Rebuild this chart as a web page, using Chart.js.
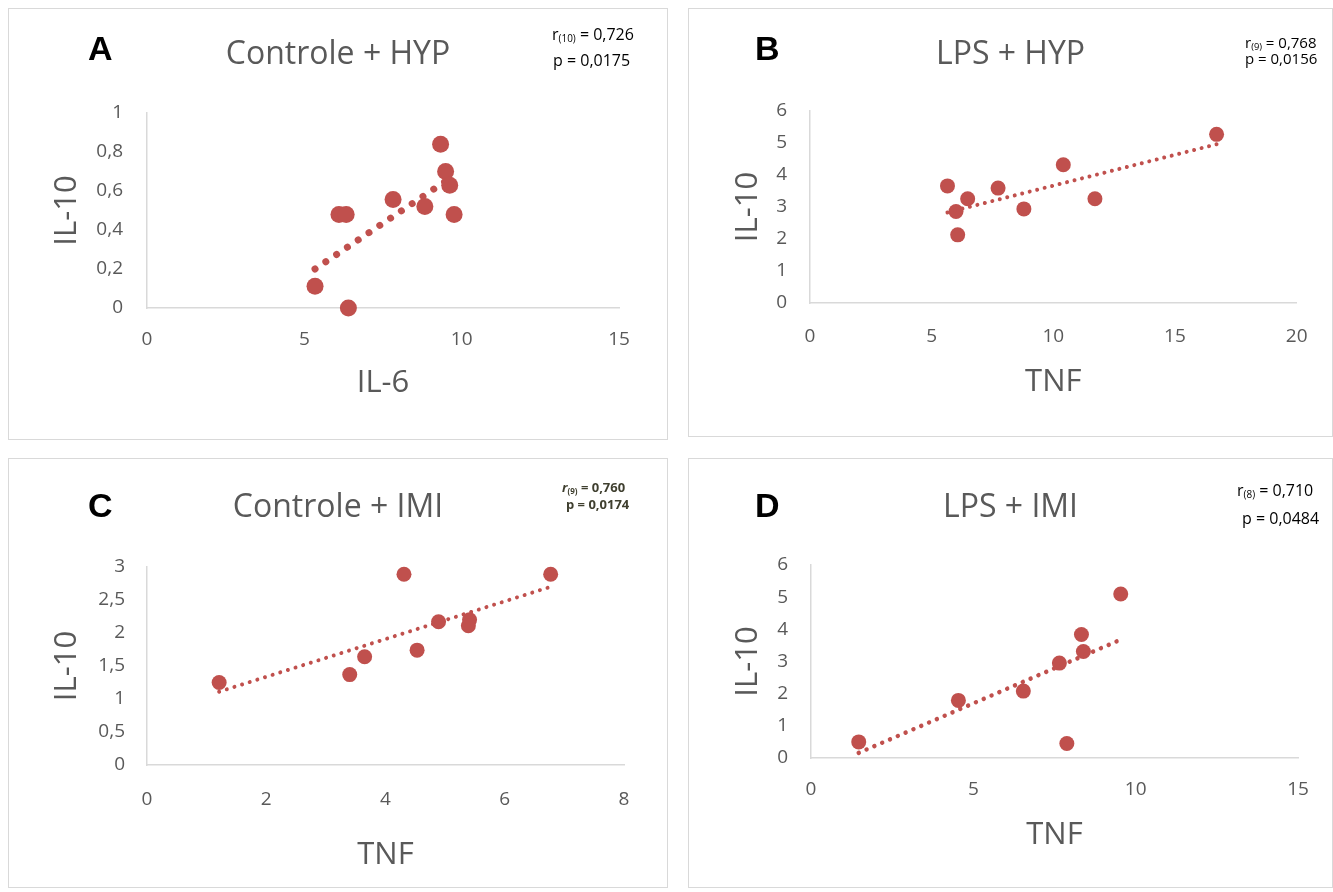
<!DOCTYPE html>
<html>
<head>
<meta charset="utf-8">
<script src="https://cdn.jsdelivr.net/npm/chart.js@4.4.1/dist/chart.umd.min.js"></script>
<style>
  body { margin: 0; background: #fff; width: 1333px; height: 892px; position: relative; overflow: hidden; font-family: "Open Sans", sans-serif; }
  .panel { position: absolute; border: 1px solid #d9d9d9; box-sizing: border-box; }
  .panel canvas { position: absolute; left: 0; top: 0; }
  .letter { position: absolute; font-family: "Liberation Sans", Arial, sans-serif; font-weight: bold; font-size: 34px; line-height: 34px; color: #000; }
  .stat { position: absolute; white-space: nowrap; color: #000; }
  .stat sub { font-size: 62%; vertical-align: -0.25em; line-height: 0; }
  .stat.small { font-weight: bold; color: #3f3f2f; }
</style>
</head>
<body>

<div class="letter" style="left:88px;top:31px">A</div>
<div class="letter" style="left:755px;top:31px">B</div>
<div class="letter" style="left:88px;top:488px">C</div>
<div class="letter" style="left:755px;top:488px">D</div>

<div class="stat" style="left:552px;top:23px;font-size:16px;line-height:22px">r<sub>(10)</sub> = 0,726</div>
<div class="stat" style="left:553px;top:49px;font-size:16px;line-height:22px">p = 0,0175</div>
<div class="stat" style="left:1245px;top:32px;font-size:15px;line-height:20px">r<sub>(9)</sub> = 0,768</div>
<div class="stat" style="left:1245px;top:48px;font-size:15px;line-height:20px">p = 0,0156</div>
<div class="stat small" style="left:562px;top:479px;font-size:13px;line-height:17px"><i>r</i><sub>(9)</sub> = 0,760</div>
<div class="stat small" style="left:566px;top:496px;font-size:13px;line-height:17px">p = 0,0174</div>
<div class="stat" style="left:1237px;top:479px;font-size:16px;line-height:22px">r<sub>(8)</sub> = 0,710</div>
<div class="stat" style="left:1242px;top:507px;font-size:16px;line-height:22px">p = 0,0484</div>

<script>
// A: Controle + HYP (IL-6 vs IL-10)
const il6A = [9.33, 9.49, 9.62, 9.76, 8.83, 7.82, 6.10, 6.33, 5.34, 6.40];
const il10A = [0.84, 0.70, 0.63, 0.48, 0.52, 0.556, 0.48, 0.48, 0.112, 0];
const trendXA = [5.34, 9.76];
const trendYA = [0.20, 0.68];
const xTicksA = ['0', '5', '10', '15'];
const yTicksA = ['0', '0,2', '0,4', '0,6', '0,8', '1'];

// B: LPS + HYP (TNF vs IL-10)
const tnfB = [16.71, 10.41, 5.65, 7.73, 6.48, 11.71, 6.00, 8.79, 6.07];
const il10B = [5.27, 4.32, 3.66, 3.59, 3.26, 3.26, 2.86, 2.94, 2.13];
const trendXB = [5.65, 16.71];
const trendYB = [2.83, 4.96];
const xTicksB = ['0', '5', '10', '15', '20'];
const yTicksB = ['0', '1', '2', '3', '4', '5', '6'];

// C: Controle + IMI (TNF vs IL-10)
const tnfC = [4.31, 6.77, 4.89, 5.41, 5.39, 4.53, 3.65, 3.40, 1.21];
const il10C = [2.89, 2.89, 2.17, 2.20, 2.11, 1.74, 1.64, 1.37, 1.25];
const trendXC = [1.21, 6.77];
const trendYC = [1.11, 2.70];
const xTicksC = ['0', '2', '4', '6', '8'];
const yTicksC = ['0', '0,5', '1', '1,5', '2', '2,5', '3'];

// D: LPS + IMI (TNF vs IL-10)
const tnfD = [9.54, 8.33, 8.39, 7.65, 6.54, 4.54, 1.47, 7.88];
const il10D = [5.10, 3.84, 3.31, 2.95, 2.08, 1.79, 0.50, 0.45];
const trendXD = [1.47, 9.54];
const trendYD = [0.16, 3.68];
const xTicksD = ['0', '5', '10', '15'];
const yTicksD = ['0', '1', '2', '3', '4', '5', '6'];

const RED = '#c0504d';
const GREY = '#595959';
const AXIS = '#d9d9d9';
const FONT = '"Open Sans", sans-serif';

const panels = [
  { title: 'Controle + HYP', xTitle: 'IL-6', xs: il6A, ys: il10A, tx: trendXA, ty: trendYA,
    xTicks: xTicksA, yTicks: yTicksA, xMax: 15, xStep: 5, yMax: 1, yStep: 0.2,
    box: [8, 8, 660, 432], area: [147, 113, 619, 308],
    titleY: 55, yTitleX: 67, xTitleY: 383, xLabelY: 340, yGap: 24,
    radius: 8.5, dot: 7, gap: 13 },
  { title: 'LPS + HYP', xTitle: 'TNF', xs: tnfB, ys: il10B, tx: trendXB, ty: trendYB,
    xTicks: xTicksB, yTicks: yTicksB, xMax: 20, xStep: 5, yMax: 6, yStep: 1,
    box: [688, 8, 645, 429], area: [810, 111, 1299, 303],
    titleY: 55, yTitleX: 748, xTitleY: 382, xLabelY: 337, yGap: 23,
    radius: 7.5, dot: 4, gap: 7.7 },
  { title: 'Controle + IMI', xTitle: 'TNF', xs: tnfC, ys: il10C, tx: trendXC, ty: trendYC,
    xTicks: xTicksC, yTicks: yTicksC, xMax: 8, xStep: 2, yMax: 3, yStep: 0.5,
    box: [8, 458, 660, 430], area: [147, 567, 624, 765],
    titleY: 508, yTitleX: 67, xTitleY: 855, xLabelY: 800, yGap: 22,
    radius: 7.5, dot: 4, gap: 8 },
  { title: 'LPS + IMI', xTitle: 'TNF', xs: tnfD, ys: il10D, tx: trendXD, ty: trendYD,
    xTicks: xTicksD, yTicks: yTicksD, xMax: 15, xStep: 5, yMax: 6, yStep: 1,
    box: [688, 458, 645, 430], area: [811, 565, 1298, 758],
    titleY: 508, yTitleX: 748, xTitleY: 835, xLabelY: 790, yGap: 23,
    radius: 7.5, dot: 4.5, gap: 8.5 }
];

function makeChart(p) {
  const [bx, by, bw, bh] = p.box;
  const cx = bx + 1, cy = by + 1, cw = bw - 2, ch = bh - 2;
  const [al, at, ar, ab] = p.area;

  const div = document.createElement('div');
  div.className = 'panel';
  div.style.cssText = `left:${bx}px;top:${by}px;width:${bw}px;height:${bh}px`;
  const canvas = document.createElement('canvas');
  canvas.width = cw;
  canvas.height = ch;
  div.appendChild(canvas);
  document.body.insertBefore(div, document.body.firstChild);

  // same room left and right so the title is centred on the panel
  const side = cx + cw - ar;

  new Chart(canvas, {
    type: 'scatter',
    data: {
      datasets: [
        {
          data: p.xs.map((v, i) => ({ x: v, y: p.ys[i] })),
          backgroundColor: RED,
          borderColor: RED,
          borderWidth: 0,
          pointRadius: p.radius,
          pointHoverRadius: p.radius,
          order: 1,
          clip: false
        },
        {
          type: 'line',
          data: p.tx.map((v, i) => ({ x: v, y: p.ty[i] })),
          borderColor: RED,
          borderWidth: p.dot,
          borderDash: [0.01, p.gap],
          borderCapStyle: 'round',
          pointRadius: 0,
          fill: false,
          order: 0,
          clip: false
        }
      ]
    },
    options: {
      responsive: false,
      animation: false,
      events: [],
      layout: { padding: { left: side, right: side, top: 0, bottom: 0 } },
      plugins: {
        legend: { display: false },
        tooltip: { enabled: false },
        title: {
          display: true,
          text: p.title,
          color: GREY,
          font: { family: FONT, size: 32, weight: 'normal', lineHeight: 1 },
          padding: { top: p.titleY - cy - 16, bottom: at - p.titleY - 16 }
        }
      },
      scales: {
        x: {
          type: 'linear',
          position: 'bottom',
          min: 0,
          max: p.xMax,
          ticks: {
            stepSize: p.xStep,
            padding: p.xLabelY - ab - 9.5,
            color: GREY,
            font: { family: FONT, size: 19, lineHeight: 1 },
            callback: (v, i) => p.xTicks[i]
          },
          grid: { display: false, drawTicks: false },
          border: { color: AXIS, width: 1.5 },
          title: {
            display: true,
            text: p.xTitle,
            color: GREY,
            font: { family: FONT, size: 31, lineHeight: 1 },
            padding: { top: 0, bottom: cy + ch - p.xTitleY - 15.5 }
          },
          afterFit: s => { s.height = cy + ch - ab; }
        },
        y: {
          type: 'linear',
          position: 'left',
          min: 0,
          max: p.yMax,
          ticks: {
            stepSize: p.yStep,
            padding: p.yGap,
            color: GREY,
            font: { family: FONT, size: 19, lineHeight: 1 },
            callback: (v, i) => p.yTicks[i]
          },
          grid: { display: false, drawTicks: false },
          border: { color: AXIS, width: 1.5 },
          title: {
            display: true,
            text: 'IL-10',
            color: GREY,
            font: { family: FONT, size: 31, lineHeight: 1 },
            padding: { top: p.yTitleX - cx - side - 15.5, bottom: 0 }
          },
          afterFit: s => { s.width = al - cx - side; }
        }
      }
    }
  });
}

panels.forEach(makeChart);
</script>
</body>
</html>
